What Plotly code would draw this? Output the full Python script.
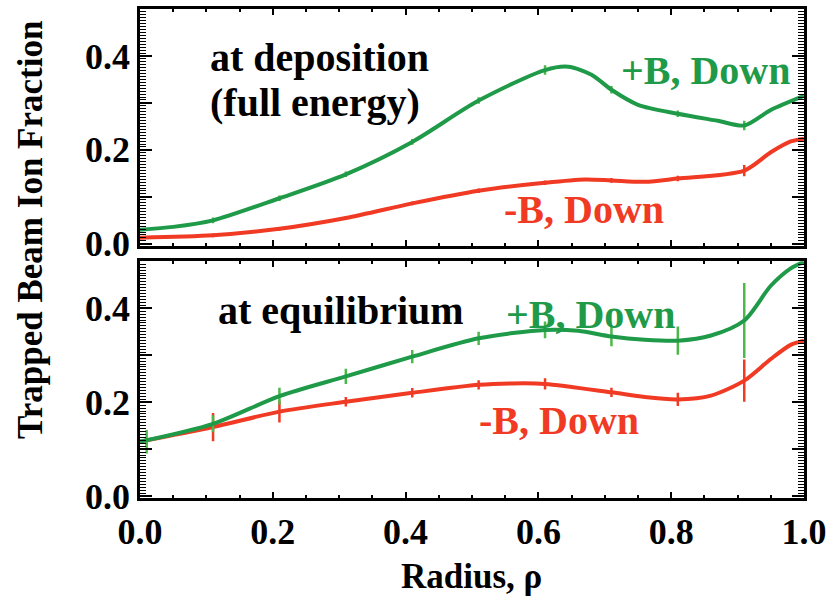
import plotly.graph_objects as go

# ---------------- data ----------------
# top panel: at deposition (full energy)
top_pos_x = [0.0, 0.05, 0.11, 0.21, 0.31, 0.41, 0.51, 0.61, 0.645, 0.68, 0.71, 0.75, 0.81, 0.87, 0.91, 0.95, 1.0]
top_pos_y = [0.030, 0.036, 0.050, 0.097, 0.148, 0.217, 0.305, 0.370, 0.377, 0.360, 0.328, 0.296, 0.277, 0.262, 0.252, 0.285, 0.315]
top_neg_x = [0.0, 0.11, 0.21, 0.31, 0.41, 0.51, 0.61, 0.67, 0.71, 0.76, 0.81, 0.91, 0.95, 0.98, 1.0]
top_neg_y = [0.013, 0.018, 0.032, 0.055, 0.086, 0.113, 0.130, 0.137, 0.135, 0.132, 0.139, 0.156, 0.195, 0.218, 0.224]

err_x = [0.01, 0.11, 0.21, 0.31, 0.41, 0.51, 0.61, 0.71, 0.81, 0.91]
top_pos_err_y = [0.030, 0.050, 0.097, 0.148, 0.217, 0.305, 0.370, 0.328, 0.277, 0.252]
top_pos_err = [0.003, 0.006, 0.006, 0.006, 0.006, 0.007, 0.010, 0.008, 0.007, 0.010]
top_neg_err_y = [0.013, 0.018, 0.032, 0.055, 0.086, 0.113, 0.130, 0.135, 0.139, 0.156]
top_neg_err = [0.003, 0.004, 0.004, 0.004, 0.004, 0.005, 0.005, 0.005, 0.006, 0.012]

# bottom panel: at equilibrium
bot_pos_x = [0.0, 0.11, 0.21, 0.31, 0.41, 0.51, 0.61, 0.66, 0.71, 0.76, 0.81, 0.86, 0.91, 0.95, 0.98, 1.0]
bot_pos_y = [0.116, 0.154, 0.213, 0.255, 0.297, 0.336, 0.354, 0.352, 0.340, 0.333, 0.331, 0.342, 0.374, 0.448, 0.485, 0.499]
bot_neg_x = [0.0, 0.11, 0.21, 0.31, 0.41, 0.51, 0.56, 0.61, 0.71, 0.76, 0.81, 0.86, 0.91, 0.95, 0.98, 1.0]
bot_neg_y = [0.116, 0.147, 0.180, 0.201, 0.220, 0.237, 0.240, 0.239, 0.221, 0.211, 0.206, 0.214, 0.246, 0.292, 0.322, 0.331]

bot_pos_err_y = [0.116, 0.154, 0.213, 0.255, 0.297, 0.336, 0.354, 0.340, 0.331, 0.374]
bot_pos_err = [0.025, 0.018, 0.018, 0.016, 0.014, 0.014, 0.018, 0.021, 0.030, 0.080]
bot_neg_err_y = [0.116, 0.147, 0.180, 0.201, 0.220, 0.237, 0.239, 0.221, 0.206, 0.246]
bot_neg_err = [0.008, 0.030, 0.023, 0.010, 0.010, 0.010, 0.012, 0.010, 0.014, 0.045]

y_tickvals = [0.0, 0.1, 0.2, 0.3, 0.4, 0.5]
y_ticktext = ["0.0", "", "0.2", "", "0.4", ""]
x_tickvals = [0.0, 0.2, 0.4, 0.6, 0.8, 1.0]
x_ticktext = ["0.0", "0.2", "0.4", "0.6", "0.8", "1.0"]

GREEN = "#1f9a48"
GREEN_ERR = "#4cb848"
RED = "#f03a24"
FONT = "Liberation Serif"

# plot-area pixel geometry (for placing text labels)
PL, PR, PT, PB = 140, 806, 6, 498

fig = go.Figure()

def add_series(x, y, ex, ey, err, color, ecolor, xa, ya):
    fig.add_trace(go.Scatter(x=ex, y=ey, mode="markers", marker=dict(size=1, color=ecolor, opacity=0),
                             error_y=dict(type="data", array=err, color=ecolor, thickness=2.5, width=0),
                             xaxis=xa, yaxis=ya, showlegend=False, hoverinfo="skip"))
    fig.add_trace(go.Scatter(x=x, y=y, mode="lines", line=dict(color=color, width=4, shape="spline", smoothing=0.8),
                             xaxis=xa, yaxis=ya, showlegend=False))

# top panel
add_series(top_neg_x, top_neg_y, err_x, top_neg_err_y, top_neg_err, RED, RED, "x2", "y2")
add_series(top_pos_x, top_pos_y, err_x, top_pos_err_y, top_pos_err, GREEN, GREEN_ERR, "x2", "y2")
# bottom panel
add_series(bot_neg_x, bot_neg_y, err_x, bot_neg_err_y, bot_neg_err, RED, RED, "x", "y")
add_series(bot_pos_x, bot_pos_y, err_x, bot_pos_err_y, bot_pos_err, GREEN, GREEN_ERR, "x", "y")

tickfont = dict(family=FONT, size=36, color="black", weight="bold")

def xaxis_common(show_labels):
    return dict(range=[0, 1], tickvals=x_tickvals, ticktext=x_ticktext, showticklabels=show_labels,
                ticks="inside", ticklen=6, tickwidth=1.5, tickcolor="black",
                minor=dict(dtick=0.05, ticks="inside", ticklen=3, tickwidth=1.5, tickcolor="black"),
                showline=True, linecolor="black", linewidth=2.5, mirror="ticks",
                showgrid=False, zeroline=False, tickfont=tickfont)

def yaxis_common(domain):
    return dict(domain=domain, range=[-0.004, 0.5], tickvals=y_tickvals, ticktext=y_ticktext,
                ticks="inside", ticklen=12, tickwidth=1.5, tickcolor="black",
                minor=dict(dtick=0.00625, ticks="inside", ticklen=6, tickwidth=1, tickcolor="black"),
                showline=True, linecolor="black", linewidth=2.5, mirror="ticks",
                showgrid=False, zeroline=False, tickfont=tickfont)

fig.update_layout(
    width=833, height=597,
    margin=dict(l=PL, r=833 - PR, t=PT, b=597 - PB),
    paper_bgcolor="white", plot_bgcolor="white",
    xaxis=dict(anchor="y", **xaxis_common(True)),
    yaxis=dict(anchor="x", **yaxis_common([0, 0.484])),
    xaxis2=dict(anchor="y2", matches="x", **xaxis_common(False)),
    yaxis2=dict(anchor="x2", **yaxis_common([0.516, 1.0])),
)

def px_to_paper(px, py):
    return (px - PL) / (PR - PL), (PB - py) / (PB - PT)

afont = dict(family=FONT, size=40, color="black", weight="bold")
ann = [
    ("at deposition", 208, 55, "black"),
    ("(full energy)", 208, 100, "black"),
    ("+B, Down", 620, 68, GREEN),
    ("-B, Down", 503, 208, RED),
    ("at equilibrium", 216, 309, "black"),
    ("+B, Down", 505, 313, GREEN),
    ("-B, Down", 478, 420, RED),
]
for text, px, py, col in ann:
    ax, ay = px_to_paper(px, py)
    fig.add_annotation(text=text, x=ax, y=ay, xref="paper", yref="paper",
                       xanchor="left", yanchor="middle", showarrow=False, font=dict(afont, color=col))

tx, ty = px_to_paper(30, 228)
fig.add_annotation(text="Trapped Beam Ion Fraction", x=tx, y=ty, xref="paper", yref="paper",
                   textangle=-90, showarrow=False, xanchor="center", yanchor="middle",
                   font=dict(family=FONT, size=35, color="black", weight="bold"))
rx, ry = px_to_paper(472, 577)
fig.add_annotation(text="Radius, ρ", x=rx, y=ry, xref="paper", yref="paper",
                   showarrow=False, xanchor="center", yanchor="middle",
                   font=dict(family=FONT, size=35, color="black", weight="bold"))

fig.write_html("out.html")
